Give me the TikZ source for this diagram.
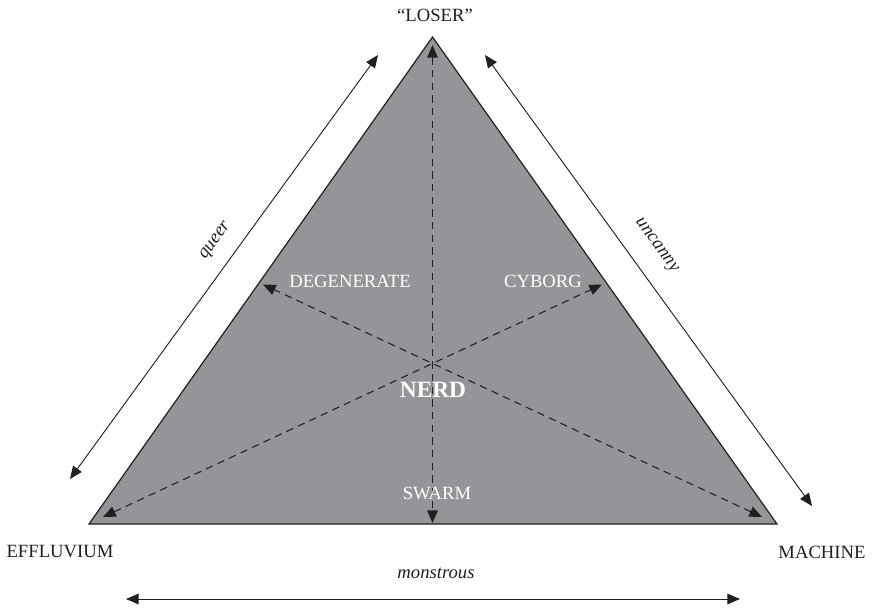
\documentclass[tikz,border=0pt]{standalone}
\usepackage{fontspec}
\setmainfont{Liberation Serif}
\usetikzlibrary{arrows.meta}
\definecolor{trifill}{RGB}{147,149,152}
\definecolor{ink}{RGB}{35,31,32}
\tikzset{mytip/.tip={Triangle[length=9.5pt,width=8pt]}}
\begin{document}
\begin{tikzpicture}[x=0.75pt,y=-0.75pt,
  lbl/.style={inner sep=0pt,font=\fontsize{14}{16}\selectfont,text=ink},
  inlbl/.style={inner sep=0pt,font=\fontsize{14}{16}\selectfont,text=white},
  itl/.style={inner sep=0pt,font=\fontsize{14}{16}\selectfont\itshape,text=ink},
  dashln/.style={draw=ink,line width=0.8pt,dash pattern=on 5.5pt off 4pt,mytip-mytip},
  solidln/.style={draw=ink,line width=0.7pt,mytip-mytip}]
\useasboundingbox (0,0) rectangle (874,608);
% triangle
\coordinate (A) at (432.5,37);
\coordinate (B) at (89,524);
\coordinate (C) at (777,524);
\filldraw[fill=trifill,draw=ink,line width=0.9pt] (A) -- (B) -- (C) -- cycle;
% dashed arrow ends
\coordinate (vt) at (432.5,45);
\coordinate (vb) at (432.5,523);
\coordinate (bl) at (103,517);
\coordinate (ur) at (602,284.5);
\coordinate (br) at (762,517);
\coordinate (ul) at (263,284.5);
\draw[dashln] (vt) -- (vb);
\draw[dashln] (bl) -- (ur);
\draw[dashln] (br) -- (ul);
% side arrows
\coordinate (l1) at (70,479);
\coordinate (l2) at (378,55);
\coordinate (r1) at (485,55);
\coordinate (r2) at (812,506);
\coordinate (m1) at (126,599);
\coordinate (m2) at (740,599);
\draw[solidln] (l1) -- (l2);
\draw[solidln] (r1) -- (r2);
\draw[solidln] (m1) -- (m2);
% labels
\node[lbl] (loser) at (435,15) {“LOSER”};
\node[lbl] (eff) at (60,552) {EFFLUVIUM};
\node[lbl] (mach) at (822,552) {MACHINE};
\node[itl] (mon) at (436,573) {monstrous};
\node[itl,rotate=54] (queer) at (216,241) {queer};
\node[itl,rotate=-54] (unc) at (656,246) {uncanny};
\node[inlbl] (deg) at (350,281) {DEGENERATE};
\node[inlbl] (cyb) at (543,281) {CYBORG};
\node[inlbl,font=\fontsize{17.5}{20}\selectfont\bfseries] (nerd) at (433,390) {NERD};
\node[inlbl] (swarm) at (437,493) {SWARM};
\end{tikzpicture}
\end{document}
